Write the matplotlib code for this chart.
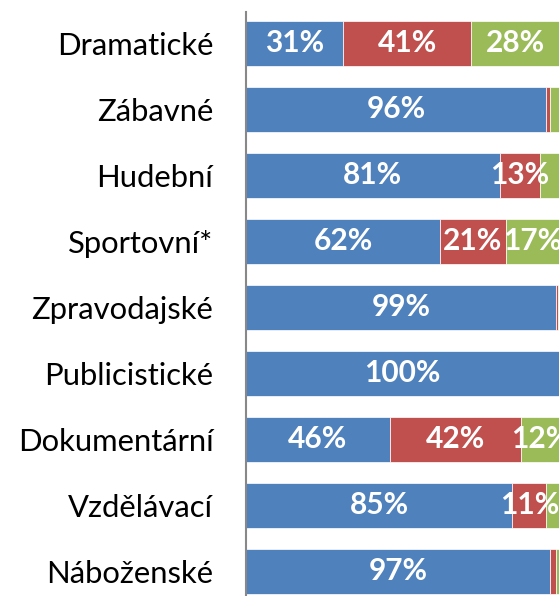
import matplotlib.pyplot as plt
import numpy as np

# Dane
kategorie = ['Dramatické', 'Zábavné', 'Hudební', 'Sportovní*', 'Zpravodajské',
             'Publicistické', 'Dokumentární', 'Vzdělávací', 'Náboženské']
modra = [31, 96, 81, 62, 99, 100, 46, 85, 97]
cervena = [41, 1, 13, 21, 0.6, 0, 42, 11, 2]
zelena = [28, 3, 6, 17, 0.4, 0, 12, 4, 1]

barvy = ['#4F81BD', '#C0504D', '#9BBB59']

plt.rcParams['font.family'] = ['Lato', 'DejaVu Sans']

fig = plt.figure(figsize=(5.59, 5.96), dpi=100)
ax = fig.add_axes([246 / 559, 0, 1 - 246 / 559, 1 - 12 / 596])

y = np.arange(len(kategorie))
left = np.zeros(len(kategorie))
for serie, barva in zip([modra, cervena, zelena], barvy):
    hodnoty = np.array(serie, dtype=float)
    ax.barh(y, hodnoty, left=left, height=0.68, color=barva,
            edgecolor='white', linewidth=0.5)
    for i, v in enumerate(hodnoty):
        if v >= 10:
            ax.text(left[i] + v / 2, y[i], f'{v:.0f}%', ha='center', va='center',
                    color='white', fontsize=21.5, fontweight='bold', clip_on=False)
    left += hodnoty

ax.set_xlim(0, 100)
ax.set_ylim((596 - 43.5) / 66, -(43.5 - 12) / 66)
ax.set_yticks(y)
ax.set_yticklabels(kategorie, fontsize=22.3)
ax.tick_params(axis='y', length=0, pad=23.5)
ax.set_xticks([])
for s in ['top', 'right', 'bottom']:
    ax.spines[s].set_visible(False)
ax.spines['left'].set_color('#888888')
ax.spines['left'].set_linewidth(1.5)

fig.savefig('out.png', dpi=100)
